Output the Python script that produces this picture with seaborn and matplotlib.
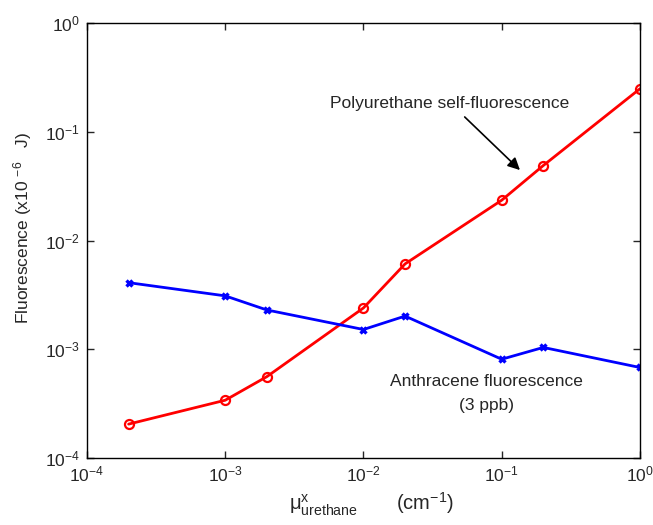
import pandas as pd
import numpy as np
import seaborn as sns
import matplotlib.pyplot as plt
from matplotlib.ticker import LogLocator, NullLocator

# valores
mu = [2e-4, 1e-3, 2e-3, 1e-2, 2e-2, 1e-1, 2e-1, 1.0]
poliuretano = [2.05e-4, 3.4e-4, 5.6e-4, 2.4e-3, 6.1e-3, 2.35e-2, 4.9e-2, 0.249]
antraceno = [4.1e-3, 3.1e-3, 2.3e-3, 1.52e-3, 2.02e-3, 8.1e-4, 1.04e-3, 6.8e-4]

dados = pd.DataFrame({"mu": mu, "Poliuretano": poliuretano, "Antraceno": antraceno})

sns.set_style("ticks")
plt.rcParams['font.family'] = ['Liberation Sans', 'DejaVu Sans']
plt.rcParams['mathtext.fontset'] = 'custom'
plt.rcParams['mathtext.rm'] = 'Liberation Sans'
plt.rcParams['mathtext.it'] = 'Liberation Sans:italic'
plt.rcParams['mathtext.sf'] = 'Liberation Sans'
plt.rcParams['axes.unicode_minus'] = False

fig = plt.figure(figsize=(6.53, 5.25), dpi=100)
ax = fig.add_axes([0.1332, 0.1276, 0.8468, 0.8284])

sns.lineplot(data=dados, x="mu", y="Poliuretano", ax=ax, color="red", lw=2,
             marker="o", markersize=6.5, markerfacecolor="none",
             markeredgecolor="red", markeredgewidth=1.6)
sns.lineplot(data=dados, x="mu", y="Antraceno", ax=ax, color="blue", lw=2,
             marker="x", markersize=5, markeredgecolor="blue", markeredgewidth=2.4)

ax.set_xscale("log")
ax.set_yscale("log")
ax.set_xlim(1e-4, 1)
ax.set_ylim(1e-4, 1)
ax.xaxis.set_major_locator(LogLocator(base=10, numticks=10))
ax.yaxis.set_major_locator(LogLocator(base=10, numticks=10))
ax.xaxis.set_minor_locator(NullLocator())
ax.yaxis.set_minor_locator(NullLocator())
ax.tick_params(direction="in", top=True, right=True, labelsize=12.5, length=5, width=1, pad=5)
for s in ax.spines.values():
    s.set_linewidth(1)
    s.set_color("black")

ax.set_ylabel(r"Fluorescence (x10 $^{-6}$   J)", fontsize=12.5)
ax.yaxis.set_label_coords(-0.095, 0.53)
ax.set_xlabel(r"$\mathrm{μ}^{\rm x}_{\rm urethane}$       (cm$^{-1}$)", fontsize=14.5)
ax.xaxis.set_label_coords(0.514, -0.075)
ax.xaxis.label.set_va("top")

# texto e seta da curva do poliuretano
ax.text(0.0423, 0.184, "Polyurethane self-fluorescence", ha="center", va="center", fontsize=12.5)
ax.annotate("", xy=(0.1355, 0.0445), xytext=(0.054, 0.137),
            arrowprops=dict(arrowstyle="-|>", color="black", lw=1.2, mutation_scale=18,
                            shrinkA=0, shrinkB=0))
ax.text(0.078, 3.9e-4, "Anthracene fluorescence\n(3 ppb)", ha="center", va="center",
        fontsize=12.5, linespacing=1.75)

plt.savefig("out.png", dpi=100)
